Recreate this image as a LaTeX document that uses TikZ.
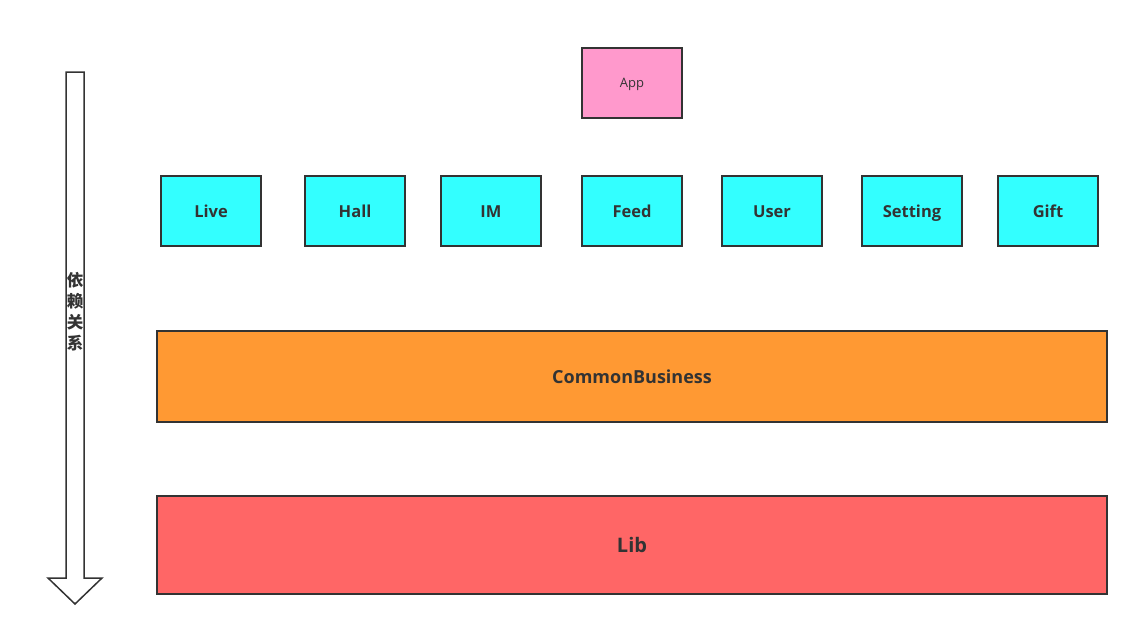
\documentclass[tikz,border=0pt]{standalone}
\usepackage{fontspec}
\setmainfont{Open Sans}
\newfontfamily\cjk{Noto Sans CJK SC}
\definecolor{linegray}{HTML}{333333}
\definecolor{appPink}{HTML}{FF99CC}
\definecolor{modCyan}{HTML}{33FFFF}
\definecolor{busOrange}{HTML}{FF9933}
\definecolor{libRed}{HTML}{FF6666}
\tikzset{
  box/.style={draw=linegray, line width=1.5pt, rectangle, text=linegray},
  appbox/.style={box, fill=appPink, minimum width=100, minimum height=70, text height=9.3, text depth=0, font=\fontsize{13}{15}\selectfont},
  modbox/.style={box, fill=modCyan, minimum width=100, minimum height=70, text height=12.2, text depth=0, font=\bfseries\fontsize{16.5}{20}\selectfont},
  layerbox/.style={box, minimum width=950, text depth=0}
}
\begin{document}
\begin{tikzpicture}[x=1pt,y=1pt]
\tikzstyle{every node}+=[inner sep=0pt]
\useasboundingbox (0,0) rectangle (1139,-637);
\node[appbox] (app) at (632,-83) {App};
\node[modbox] (live) at (211,-211) {Live};
\node[modbox] (hall) at (355,-211) {Hall};
\node[modbox] (im) at (491,-211) {IM};
\node[modbox] (feed) at (632,-211) {Feed};
\node[modbox] (user) at (772,-211) {User};
\node[modbox] (setting) at (912,-211) {Setting};
\node[modbox] (gift) at (1048,-211) {Gift};
\node[layerbox, fill=busOrange, minimum height=91, text height=13.2, font=\bfseries\fontsize{18}{22}\selectfont] (common) at (632,-376.5) {CommonBusiness};
\node[layerbox, fill=libRed, minimum height=98, text height=14.5, font=\bfseries\fontsize{20}{24}\selectfont] (lib) at (632,-545) {Lib};
\draw[draw=linegray, line width=1.5pt, line join=miter] (66,-72) -- (84,-72) -- (84,-578) -- (102,-578) -- (75,-604) -- (48,-578) -- (66,-578) -- cycle;
\node[text=linegray, align=center, font=\cjk\bfseries\fontsize{16.5}{21}\selectfont] (dep) at (75,-312) {依\\赖\\关\\系};
\end{tikzpicture}
\end{document}
